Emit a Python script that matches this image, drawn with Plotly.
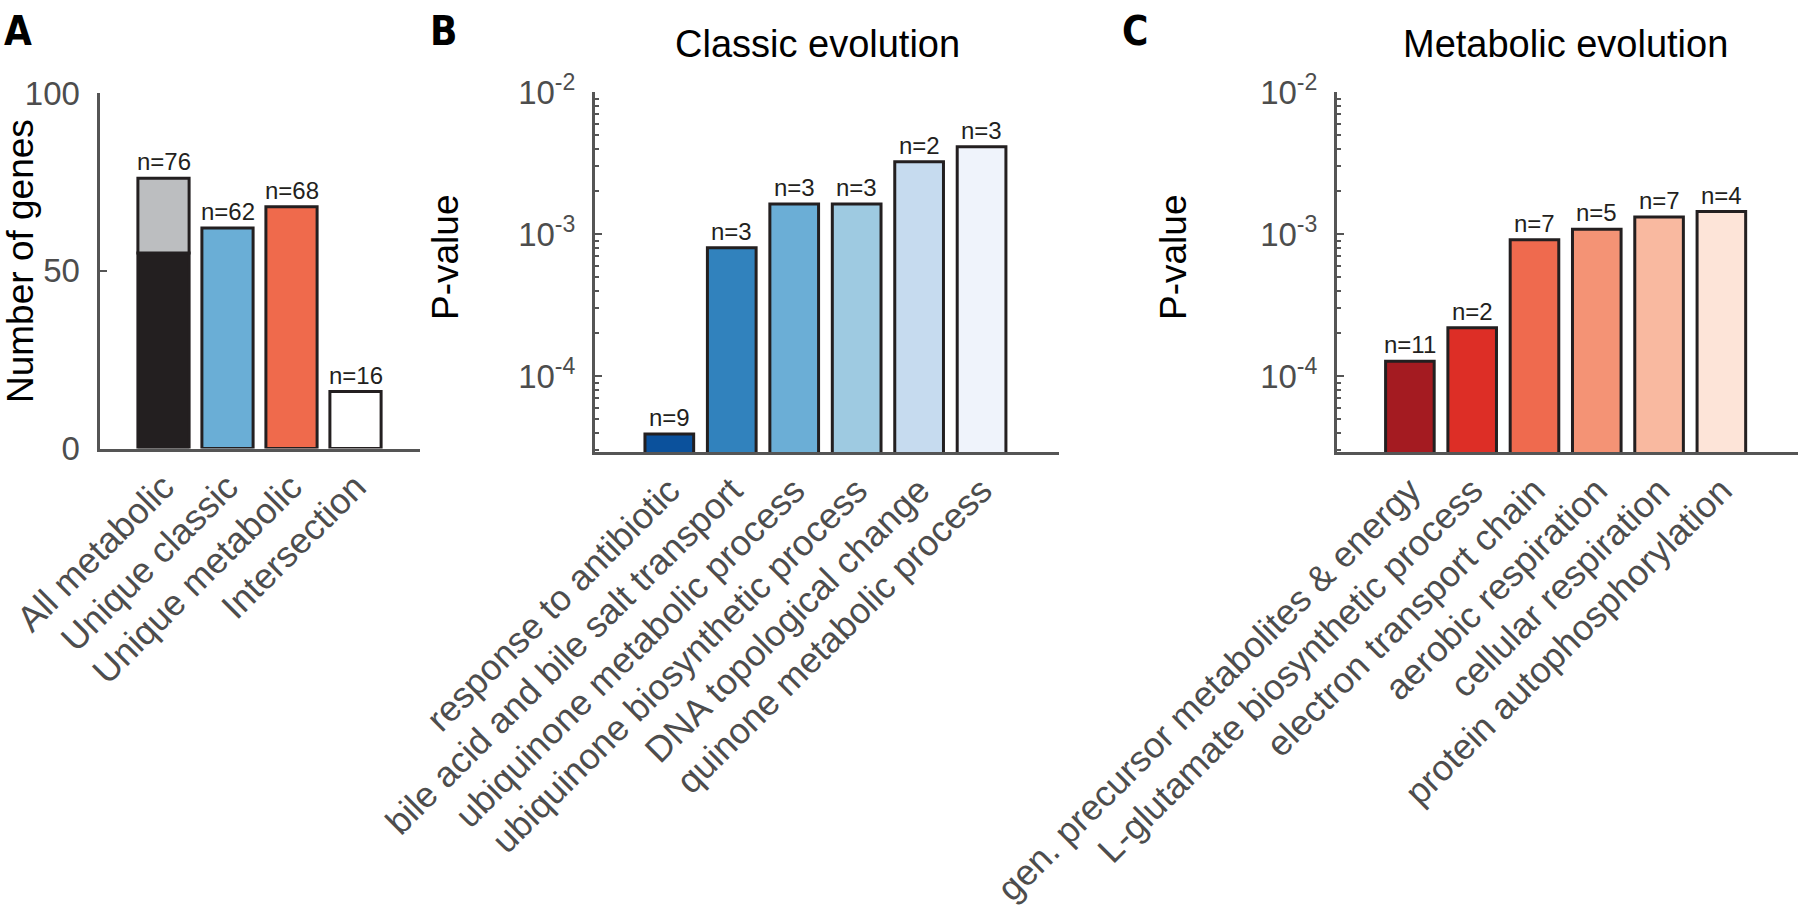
import numpy as np
import plotly.graph_objects as go

# ---------------- data ----------------
# Panel A
a_categories = ["All metabolic", "Unique classic", "Unique metabolic", "Intersection"]
a_counts = [76, 62, 68, 16]
a_all_metabolic_dark = 55          # dark lower part of the "All metabolic" bar
a_colors = ["#231f20", "#6aaed6", "#ef6a4c", "#ffffff"]
a_top_color = "#bcbec0"

# Panel B - Classic evolution
b_terms = ["response to antibiotic", "bile acid and bile salt transport",
           "ubiquinone metabolic process", "ubiquinone biosynthetic process",
           "DNA topological change", "quinone metabolic process"]
b_pvalues = [3.9e-5, 8.0e-4, 1.63e-3, 1.63e-3, 3.23e-3, 4.12e-3]
b_counts = [9, 3, 3, 3, 2, 3]
b_colors = ["#0b519c", "#3182bd", "#6baed6", "#9ecae1", "#c6dbef", "#eff3fb"]

# Panel C - Metabolic evolution
c_terms = ["gen. precursor metabolites & energy", "L-glutamate biosynthetic process",
           "electron transport chain", "aerobic respiration",
           "cellular respiration", "protein autophosphorylation"]
c_pvalues = [1.27e-4, 2.19e-4, 9.1e-4, 1.08e-3, 1.32e-3, 1.44e-3]
c_counts = [11, 2, 7, 5, 7, 4]
c_colors = ["#a41b21", "#dd2e26", "#ef6a4e", "#f49375", "#f9b9a0", "#fde4d8"]

log_ticks = [1e-4, 1e-3, 1e-2]
log_ticktext = ["10<sup>-4</sup>", "10<sup>-3</sup>", "10<sup>-2</sup>"]

# ---------------- style ----------------
W, H = 1800, 920
FONT = "Liberation Sans, Arial, Helvetica, sans-serif"
LETTER_FONT = "Liberation Sans Narrow, DejaVu Sans Condensed, Liberation Sans, Arial"
AXC = "#555555"
TICKC = "#4d4d4d"
EDGE = "#231f20"


def px(x):
    return x / W


def py(y):
    return 1 - y / H


fig = go.Figure()

# Panel A bars
a_lower = [a_all_metabolic_dark] + a_counts[1:]
fig.add_trace(go.Bar(x=a_categories, y=a_lower, marker=dict(color=a_colors, line=dict(color=EDGE, width=3)),
                     width=0.8, xaxis="x", yaxis="y", showlegend=False, hoverinfo="skip"))
fig.add_trace(go.Bar(x=[a_categories[0]], y=[a_counts[0] - a_all_metabolic_dark], base=[a_all_metabolic_dark],
                     marker=dict(color=a_top_color, line=dict(color=EDGE, width=3)),
                     width=0.8, xaxis="x", yaxis="y", showlegend=False, hoverinfo="skip"))

# Panel B bars
fig.add_trace(go.Bar(x=b_terms, y=b_pvalues, marker=dict(color=b_colors, line=dict(color=EDGE, width=3)),
                     width=0.78, xaxis="x2", yaxis="y2", showlegend=False, hoverinfo="skip"))
# Panel C bars
fig.add_trace(go.Bar(x=c_terms, y=c_pvalues, marker=dict(color=c_colors, line=dict(color=EDGE, width=3)),
                     width=0.78, xaxis="x3", yaxis="y3", showlegend=False, hoverinfo="skip"))

annotations = []
# count labels
for cat, n in zip(a_categories, a_counts):
    annotations.append(dict(x=cat, y=n, xref="x", yref="y", text=f"n={n}", showarrow=False,
                            yanchor="bottom", yshift=1, font=dict(size=24, color=EDGE, family=FONT)))
for cat, p, n in zip(b_terms, b_pvalues, b_counts):
    annotations.append(dict(x=cat, y=np.log10(p), xref="x2", yref="y2", text=f"n={n}", showarrow=False,
                            yanchor="bottom", yshift=1, font=dict(size=24, color=EDGE, family=FONT)))
for cat, p, n in zip(c_terms, c_pvalues, c_counts):
    annotations.append(dict(x=cat, y=np.log10(p), xref="x3", yref="y3", text=f"n={n}", showarrow=False,
                            yanchor="bottom", yshift=1, font=dict(size=24, color=EDGE, family=FONT)))

# panel letters
for letter, xl in [("A", 2), ("B", 428), ("C", 1120)]:
    annotations.append(dict(x=px(xl), y=py(6), xref="paper", yref="paper", text=f"<b>{letter}</b>",
                            showarrow=False, xanchor="left", yanchor="top",
                            font=dict(size=40, color="#000000", family=LETTER_FONT)))
# titles
annotations.append(dict(x=px(817), y=py(44), xref="paper", yref="paper", text="Classic evolution",
                        showarrow=False, xanchor="center", yanchor="middle",
                        font=dict(size=38, color="#000000", family=FONT)))
annotations.append(dict(x=px(1565), y=py(44), xref="paper", yref="paper", text="Metabolic evolution",
                        showarrow=False, xanchor="center", yanchor="middle",
                        font=dict(size=38, color="#000000", family=FONT)))
# y axis titles
for txt, xc, yc in [("Number of genes", 20, 261), ("P-value", 445, 258), ("P-value", 1173, 258)]:
    annotations.append(dict(x=px(xc), y=py(yc), xref="paper", yref="paper", text=txt, textangle=-90,
                            showarrow=False, xanchor="center", yanchor="middle",
                            font=dict(size=37, color="#000000", family=FONT)))

xcommon = dict(type="category", showline=True, linecolor=AXC, linewidth=3, ticks="", showgrid=False,
               zeroline=False, tickangle=-45, automargin=False,
               tickfont=dict(size=36, color=TICKC, family=FONT), fixedrange=True)
ycommon = dict(showline=True, linecolor=AXC, linewidth=3, ticks="inside", ticklen=7, tickwidth=2,
               tickcolor=AXC, showgrid=False, zeroline=False, automargin=False,
               tickfont=dict(size=33, color=TICKC, family=FONT), ticklabelstandoff=10, fixedrange=True)

fig.update_layout(
    width=W, height=H, margin=dict(l=0, r=0, t=0, b=0, pad=0, autoexpand=False),
    paper_bgcolor="white", plot_bgcolor="white", barmode="overlay",
    font=dict(family=FONT),
    xaxis=dict(xcommon, domain=[px(99.5), px(419.5)], range=[-1, 4], anchor="y"),
    yaxis=dict(ycommon, domain=[py(448.5), py(93)], range=[0, 100], tickvals=[0, 50, 100], anchor="x"),
    xaxis2=dict(xcommon, domain=[px(595), px(1059)], range=[-1.19, 6.24], anchor="y2"),
    yaxis2=dict(ycommon, domain=[py(452), py(92)], type="log", range=[-4.535, -2],
                tickvals=log_ticks, ticktext=log_ticktext, anchor="x2",
                minor=dict(ticks="inside", ticklen=4, tickwidth=2, tickcolor=AXC, dtick="D1", showgrid=False)),
    xaxis3=dict(xcommon, domain=[px(1337), px(1798)], range=[-1.17, 6.23], anchor="y3"),
    yaxis3=dict(ycommon, domain=[py(452), py(92)], type="log", range=[-4.535, -2],
                tickvals=log_ticks, ticktext=log_ticktext, anchor="x3",
                minor=dict(ticks="inside", ticklen=4, tickwidth=2, tickcolor=AXC, dtick="D1", showgrid=False)),
    annotations=annotations,
)

fig.write_html("out.html", config={"displayModeBar": False},
               post_script="document.body.style.margin='0';document.body.style.overflow='hidden';")
